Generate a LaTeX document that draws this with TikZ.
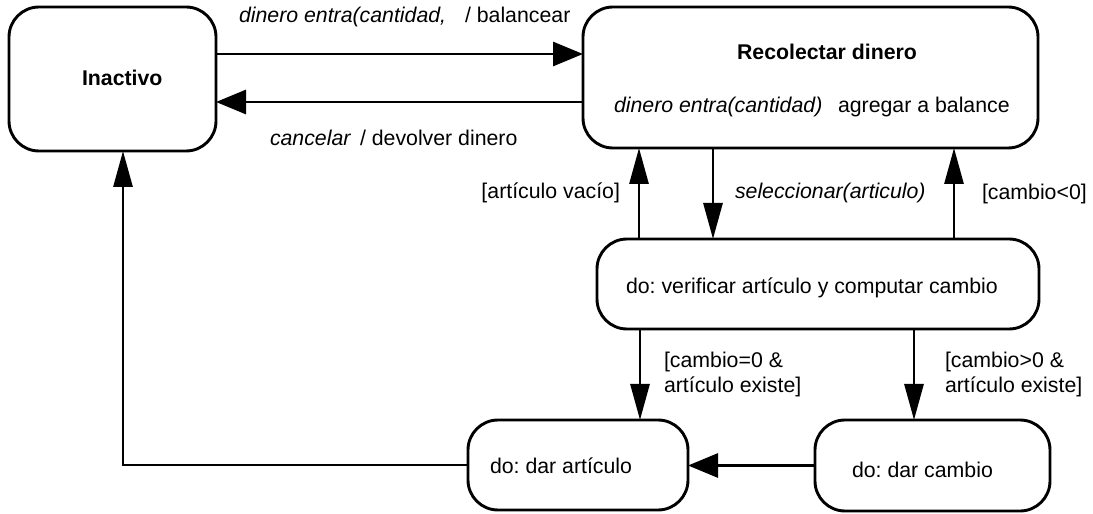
\documentclass[tikz,border=0pt]{standalone}
\usepackage{fontspec}
\setmainfont{Liberation Sans}
\usetikzlibrary{arrows.meta}
\frenchspacing
\begin{document}
\begin{tikzpicture}[x=1bp,y=-1bp,
  state/.style={draw, line width=2.9bp, rounded corners=30bp, inner sep=0pt, outer sep=0pt},
  lbl/.style={inner sep=0pt, outer sep=0pt, anchor=base west, font=\fontsize{21.3bp}{25bp}\selectfont},
  hconn/.style={line width=2.9bp, -{Triangle[length=30bp,width=24bp]}},
  vconn/.style={line width=2.9bp, -{Triangle[length=36bp,width=19bp]}}]
\useasboundingbox (0,0) rectangle (1093,514);

% states
\node[state, minimum width=207bp, minimum height=144bp] (inact) at (112.5,79) {};
\node[state, minimum width=455bp, minimum height=141bp] (rec) at (810.5,77.5) {};
\node[state, minimum width=442bp, minimum height=90bp] (ver) at (818,284) {};
\node[state, minimum width=220bp, minimum height=90bp] (dart) at (578,465) {};
\node[state, minimum width=235bp, minimum height=91bp] (dcam) at (932.5,465.5) {};

% state texts
\node[lbl, font=\fontsize{21.3bp}{25bp}\selectfont\bfseries] (tinact) at (82,86) {Inactivo};
\node[lbl, anchor=base, font=\fontsize{21.3bp}{25bp}\selectfont\bfseries] (trec) at (827,60) {Recolectar dinero};
\node[lbl] (trecev) at (614,113) {\itshape dinero entra(cantidad)};
\node[lbl] (trecac) at (838,113) {agregar a balance};
\node[lbl] (tver) at (626,294) {do: verificar artículo y computar cambio};
\node[lbl] (tdart) at (490,473) {do: dar artículo};
\node[lbl] (tdcam) at (852,477) {do: dar cambio};

% connector positions
\coordinate (ya) at (0,54);
\coordinate (yb) at (0,102);
\coordinate (xa) at (639,0);
\coordinate (xb) at (713,0);
\coordinate (xc) at (954,0);
\coordinate (xd) at (640,0);
\coordinate (xe) at (914,0);
\coordinate (corner) at (123,465);

% transitions
\draw[hconn] (inact.east |- ya) -- (rec.west |- ya);
\draw[hconn] (rec.west |- yb) -- (inact.east |- yb);
\draw[vconn] (ver.north -| xa) -- (rec.south -| xa);
\draw[vconn] (rec.south -| xb) -- (ver.north -| xb);
\draw[vconn] (ver.north -| xc) -- (rec.south -| xc);
\draw[vconn] (ver.south -| xd) -- (dart.north -| xd);
\draw[vconn] (ver.south -| xe) -- (dcam.north -| xe);
\draw[hconn] (dcam.west) -- (dart.east |- dcam.west);
\draw[vconn] (dart.west) -- (corner) -- (inact.south -| corner);

% transition labels
\node[lbl] (l1a) at (239,23) {\itshape dinero entra(cantidad,};
\node[lbl] (l1b) at (465,23) {/ balancear};
\node[lbl] (l2a) at (270,146) {\itshape cancelar};
\node[lbl] (l2b) at (360,146) {/ devolver dinero};
\node[lbl, anchor=base east] (l3) at (620,199) {[artículo vacío]};
\node[lbl] (l4) at (735,199) {\itshape seleccionar(articulo)};
\node[lbl] (l5) at (982,200) {[cambio<0]};
\node[lbl] (l6) at (664,368) {\begin{tabular}[t]{@{}l@{}}[cambio=0 \&\\artículo existe]\end{tabular}};
\node[lbl] (l7) at (945,368) {\begin{tabular}[t]{@{}l@{}}[cambio>0 \&\\artículo existe]\end{tabular}};
\end{tikzpicture}
\end{document}
